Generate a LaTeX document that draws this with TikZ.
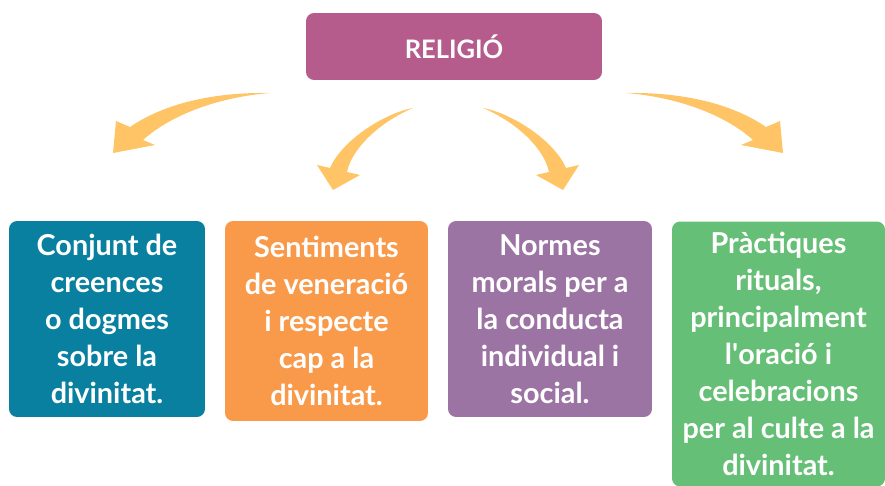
\documentclass[tikz,border=0pt]{standalone}
\usepackage{fontspec}
\setmainfont{Lato}
\definecolor{religio}{HTML}{B65C8C}
\definecolor{blau}{HTML}{0A80A0}
\definecolor{taronja}{HTML}{F89A4A}
\definecolor{lila}{HTML}{9C74A4}
\definecolor{verd}{HTML}{66BF76}
\definecolor{fletxa}{HTML}{FEC466}
\begin{document}
\begin{tikzpicture}[x=0.02cm, y=-0.02cm, line join=round,
  caixa/.style={rounded corners=1.6mm, text=white, align=center, inner sep=0pt,
    font=\fontsize{16.4}{21}\selectfont\bfseries},
  fletxes/.style={fill=fletxa, draw=none}]
 \useasboundingbox (0,0) rectangle (885,486);
 \node[caixa, fill=religio, minimum width=5.92cm, minimum height=1.34cm,
   font=\fontsize{14.5}{16}\selectfont\bfseries] (religio) at (454,46.5) {RELIGIÓ};
 \node[caixa, fill=blau, minimum width=3.92cm, minimum height=3.92cm] (creences) at (107,319)
   {Conjunt de\\creences\\o dogmes\\sobre la\\divinitat.};
 \node[caixa, fill=taronja, minimum width=4.06cm, minimum height=4cm] (sentiments) at (326.5,321)
   {Sentiments\\de veneració\\i respecte\\cap a la\\divinitat.};
 \node[caixa, fill=lila, minimum width=4.08cm, minimum height=3.92cm] (normes) at (550,319)
   {Normes\\morals per a\\la conducta\\individual i\\social.};
 \node[caixa, fill=verd, minimum width=4.26cm, minimum height=5.3cm] (practiques) at (778.5,354)
   {Pràctiques\\rituals,\\principalment\\l\textquotesingle oració i\\celebracions\\per al culte a la\\divinitat.};
 % fletxes corbes
 \fill[fletxes] (270,93) .. controls (215,92) and (165,103) .. (130,127) -- (116,121) -- (113,153)
   -- (155,145) -- (143,140) .. controls (172,114) and (220,97) .. (270,93) -- cycle;
 \fill[fletxes] (413,108) .. controls (385,113) and (342,140) .. (330,168) -- (317,165) -- (333,190)
   -- (360,175) -- (347,172) .. controls (352,148) and (380,122) .. (413,108) -- cycle;
 \begin{scope}[shift={(896,0)}, xscale=-1]
  \fill[fletxes] (270,93) .. controls (215,92) and (165,103) .. (130,127) -- (116,121) -- (113,153)
    -- (155,145) -- (143,140) .. controls (172,114) and (220,97) .. (270,93) -- cycle;
  \fill[fletxes] (413,108) .. controls (385,113) and (342,140) .. (330,168) -- (317,165) -- (333,190)
    -- (360,175) -- (347,172) .. controls (352,148) and (380,122) .. (413,108) -- cycle;
 \end{scope}
\end{tikzpicture}
\end{document}
